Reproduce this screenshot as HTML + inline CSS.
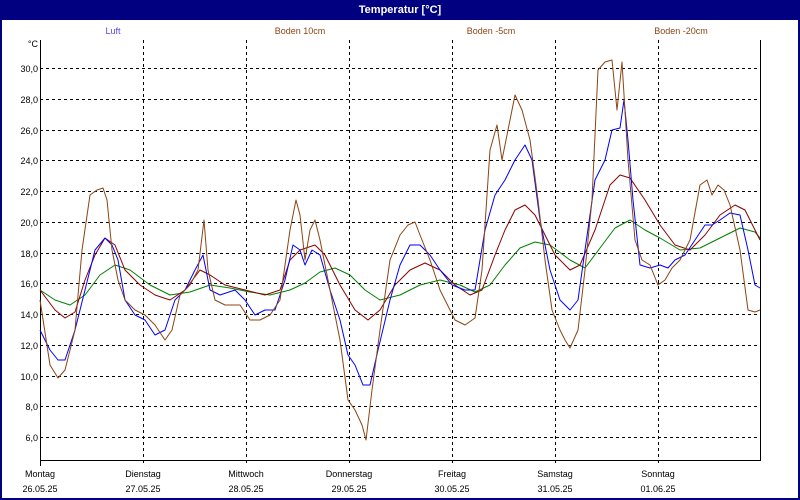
<!DOCTYPE html>
<html><head><meta charset="utf-8"><style>
html,body{margin:0;padding:0;background:#fff}
svg{display:block;font-family:"Liberation Sans",Tahoma,sans-serif}
</style></head><body>
<svg width="800" height="500" viewBox="0 0 800 500" xmlns="http://www.w3.org/2000/svg">
<rect x="0" y="0" width="800" height="500" fill="#000080"/>
<rect x="2" y="20" width="796" height="478" fill="#fff"/>
<text x="400" y="13" fill="#fff" font-size="11" font-weight="bold" text-anchor="middle">Temperatur [°C]</text>
<g font-size="9" text-anchor="middle">
<text x="113" y="34" fill="#6040e0">Luft</text>
<text x="300" y="34" fill="#8B4513">Boden 10cm</text>
<text x="491" y="34" fill="#8B4513">Boden -5cm</text>
<text x="681" y="34" fill="#8B4513">Boden -20cm</text>
</g>
<g stroke="#000" stroke-dasharray="3,3" stroke-width="1">
<line x1="40" x2="760" y1="68.5" y2="68.5"/><line x1="40" x2="760" y1="99.5" y2="99.5"/>
<line x1="40" x2="760" y1="130.5" y2="130.5"/><line x1="40" x2="760" y1="160.5" y2="160.5"/>
<line x1="40" x2="760" y1="191.5" y2="191.5"/><line x1="40" x2="760" y1="222.5" y2="222.5"/>
<line x1="40" x2="760" y1="253.5" y2="253.5"/><line x1="40" x2="760" y1="283.5" y2="283.5"/>
<line x1="40" x2="760" y1="314.5" y2="314.5"/><line x1="40" x2="760" y1="345.5" y2="345.5"/>
<line x1="40" x2="760" y1="376.5" y2="376.5"/><line x1="40" x2="760" y1="406.5" y2="406.5"/>
<line x1="40" x2="760" y1="437.5" y2="437.5"/>
<line x1="143.5" x2="143.5" y1="40" y2="466"/><line x1="246.5" x2="246.5" y1="40" y2="466"/>
<line x1="349.5" x2="349.5" y1="40" y2="466"/><line x1="452.5" x2="452.5" y1="40" y2="466"/>
<line x1="555.5" x2="555.5" y1="40" y2="466"/><line x1="658.5" x2="658.5" y1="40" y2="466"/>
</g>
<path d="M40.5 40V460.5H760.5V40" fill="none" stroke="#000" stroke-width="1"/>
<line x1="40.5" y1="460" x2="40.5" y2="466" stroke="#000"/>
<g font-size="9" text-anchor="end" fill="#000">
<text x="38" y="47">°C</text>
<text x="38" y="72">30,0</text><text x="38" y="103">28,0</text><text x="38" y="134">26,0</text>
<text x="38" y="164">24,0</text><text x="38" y="195">22,0</text><text x="38" y="226">20,0</text>
<text x="38" y="257">18,0</text><text x="38" y="287">16,0</text><text x="38" y="318">14,0</text>
<text x="38" y="349">12,0</text><text x="38" y="380">10,0</text><text x="38" y="410">8,0</text>
<text x="38" y="441">6,0</text>
</g>
<g font-size="9" text-anchor="middle" fill="#000">
<text x="40" y="477">Montag</text><text x="40" y="492">26.05.25</text>
<text x="143" y="477">Dienstag</text><text x="143" y="492">27.05.25</text>
<text x="246" y="477">Mittwoch</text><text x="246" y="492">28.05.25</text>
<text x="349" y="477">Donnerstag</text><text x="349" y="492">29.05.25</text>
<text x="452" y="477">Freitag</text><text x="452" y="492">30.05.25</text>
<text x="555" y="477">Samstag</text><text x="555" y="492">31.05.25</text>
<text x="658" y="477">Sonntag</text><text x="658" y="492">01.06.25</text>
</g>
<g fill="none" stroke-width="1" stroke-linejoin="round">
<polyline stroke="#008000" points="40,290 55,300 70,305 85,295 100,275 115,265 130,270 150,285 170,295 190,292 210,285 230,288 250,292 270,295 290,290 305,283 320,272 335,268 350,275 365,290 380,300 400,295 420,285 440,280 460,285 475,292 490,285 505,265 520,248 535,242 550,245 570,260 585,268 600,248 615,228 630,220 645,230 660,238 680,250 700,248 720,238 740,228 755,232 760,238"/>
<polyline stroke="#8B0000" points="40,290 55,310 65,318 75,312 85,280 95,255 105,238 115,245 125,270 140,285 155,295 170,300 185,290 200,270 210,275 225,285 245,290 265,295 280,290 290,260 300,250 315,245 325,255 340,285 355,310 368,320 380,310 395,285 410,270 425,263 440,270 455,285 470,295 482,290 495,255 505,230 515,210 525,205 535,215 545,235 555,255 570,270 580,265 595,230 610,185 620,175 630,178 645,200 660,225 675,245 690,250 705,235 720,215 735,205 745,210 760,240"/>
<polyline stroke="#0000ff" points="40,330 50,350 58,360 65,360 75,330 85,290 95,250 105,238 112,245 118,260 125,300 135,315 145,320 155,335 165,330 175,300 185,290 195,270 203,255 210,290 220,295 235,290 245,300 255,315 265,310 275,310 285,280 293,245 300,250 305,265 312,250 320,255 330,290 340,320 348,355 355,365 363,385 370,385 378,350 390,300 400,265 410,245 420,245 430,255 440,270 452,285 465,290 475,290 485,230 495,195 505,180 515,160 525,145 532,160 540,220 550,270 560,300 570,310 578,300 585,250 595,180 605,160 612,130 620,128 624,100 628,140 633,200 640,265 650,268 660,265 668,268 675,260 685,255 695,240 705,225 712,225 720,220 730,213 740,215 748,250 755,285 760,288"/>
<polyline stroke="#8B4513" points="40,300 50,365 58,378 65,370 75,330 82,250 90,195 97,190 103,188 107,200 112,250 118,280 125,300 135,310 145,315 155,325 165,340 172,330 180,295 190,285 198,270 204,220 208,270 215,300 225,305 240,305 250,320 260,320 270,315 280,300 290,230 296,200 300,215 305,260 310,230 315,220 320,240 330,290 340,340 348,400 355,410 362,425 366,440 372,390 380,330 390,260 400,235 408,225 415,222 420,235 430,260 440,290 455,320 465,325 475,318 482,270 490,150 497,125 502,160 510,120 515,95 522,110 530,140 538,200 545,260 552,310 560,330 565,340 570,348 578,330 585,270 592,200 598,70 605,62 612,60 617,110 622,62 628,160 635,240 642,260 650,265 658,285 665,280 672,268 680,260 690,240 700,185 707,180 712,195 718,185 724,190 730,205 740,250 748,310 755,312 760,310"/>
</g>
</svg>
</body></html>
